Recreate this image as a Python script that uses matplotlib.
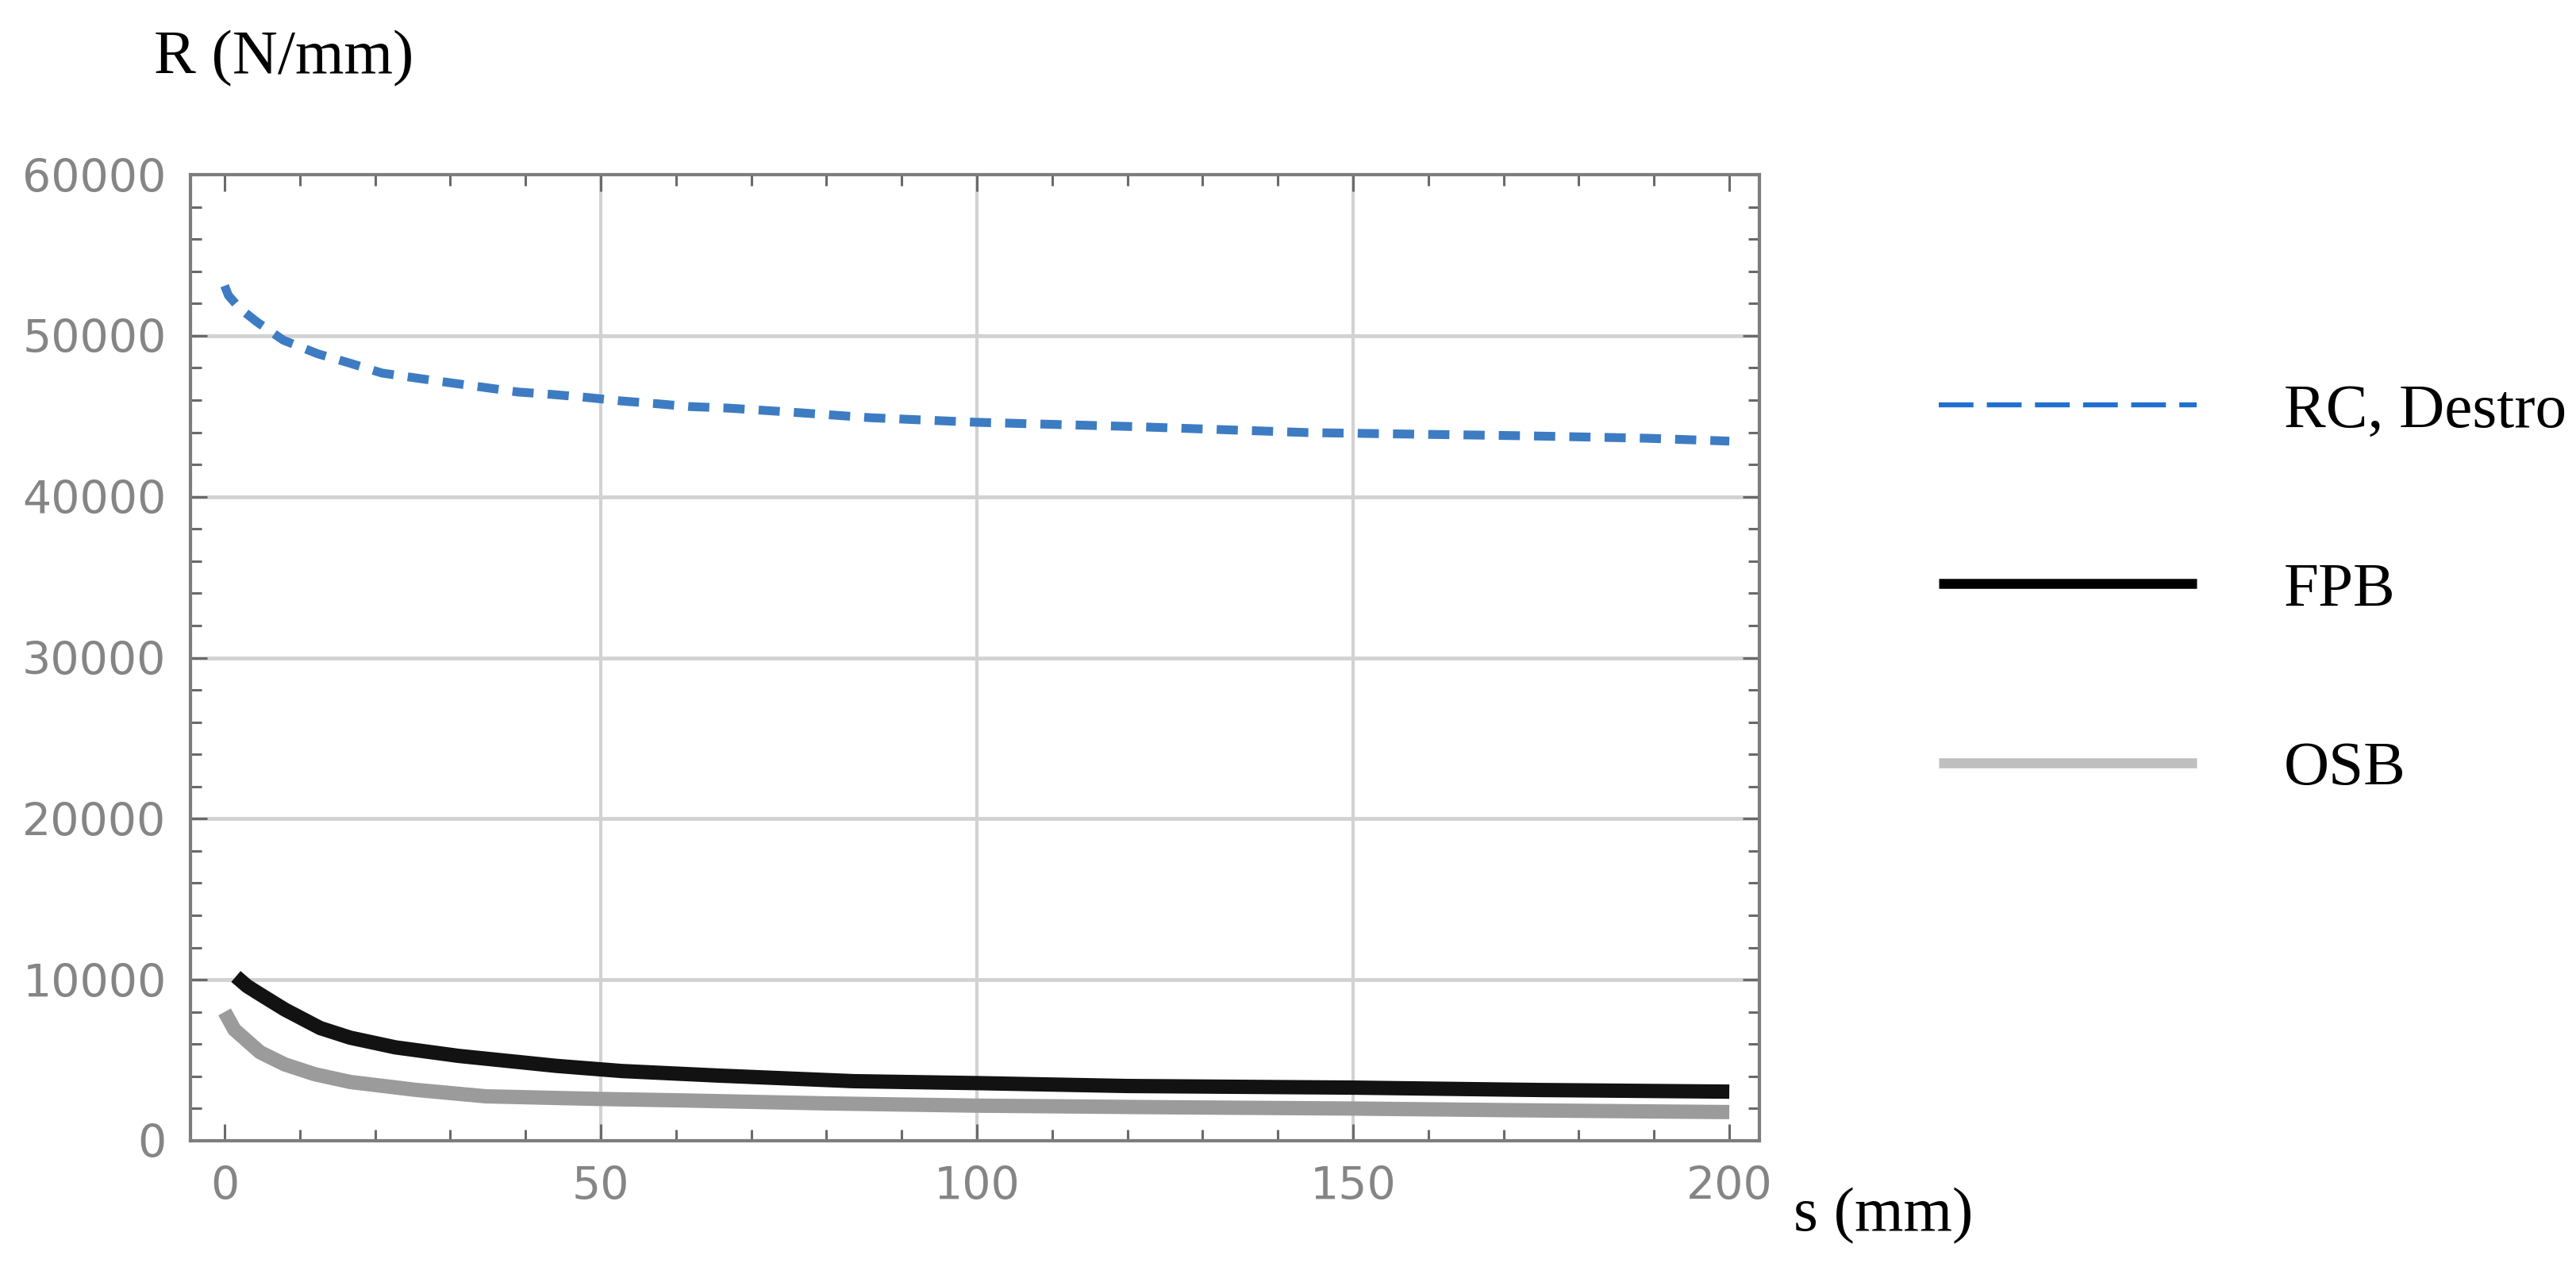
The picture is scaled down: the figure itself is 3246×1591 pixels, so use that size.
import matplotlib
matplotlib.use('Agg')
import matplotlib.pyplot as plt
from matplotlib.lines import Line2D

# ---------------- data ----------------
s_rc = [0, 0.5, 2, 4.3, 7.8, 12.4, 16.6, 20.9, 25.6, 29.9, 34.3, 39, 43.5, 48,
        52.6, 57, 61.7, 67, 75, 86, 100, 121, 144, 173, 189, 200]
r_rc = [53100, 52500, 51700, 50850, 49720, 48870, 48300, 47680, 47360, 47080,
        46800, 46500, 46350, 46170, 45950, 45790, 45600, 45500, 45260, 44900,
        44620, 44350, 43980, 43780, 43630, 43450]

s_fpb = [1.5, 3, 4.7, 8, 12.7, 16.7, 22.7, 31.1, 44.1, 52.8, 65.5, 83.6, 100,
         120, 150, 175, 200]
r_fpb = [10200, 9600, 9100, 8150, 7000, 6400, 5800, 5270, 4650, 4330, 4050,
         3700, 3580, 3400, 3300, 3150, 3050]

s_osb = [0, 1.3, 4.7, 8, 12, 16.7, 25.4, 34.7, 49.4, 61.4, 80, 100, 125, 150,
         175, 200]
r_osb = [8000, 6900, 5500, 4740, 4130, 3650, 3160, 2760, 2600, 2500, 2320,
         2180, 2080, 2000, 1880, 1780]

series_labels = ['RC, Destro', 'FPB', 'OSB']

x_major = [0, 50, 100, 150, 200]
x_major_labels = ['0', '50', '100', '150', '200']
x_minor = list(range(0, 201, 10))
y_major = [0, 10000, 20000, 30000, 40000, 50000, 60000]
y_major_labels = ['0', '10000', '20000', '30000', '40000', '50000', '60000']
y_minor = list(range(0, 60001, 2000))

x_label = 's (mm)'
y_label = 'R (N/mm)'

# ---------------- figure ----------------
W, H = 3246, 1591
fig = plt.figure(figsize=(W / 100, H / 100), dpi=100)
ax = fig.add_axes([240 / W, (H - 1437) / H, (2217 - 240) / W, (1437 - 220) / H])

ax.set_xlim(-4.54, 204.0)
ax.set_ylim(0, 60000)

# grid lines at interior major ticks
grid_col = '#d2d2d2'
for v in x_major:
    if x_major[0] < v < x_major[-1]:
        ax.axvline(v, color=grid_col, lw=3.0, zorder=0)
for v in y_major:
    if y_major[0] < v < y_major[-1]:
        ax.axhline(v, color=grid_col, lw=3.5, zorder=0)

# curves
ax.plot(s_osb, r_osb, color='#9b9b9b', lw=13, solid_capstyle='butt', zorder=3)
ax.plot(s_fpb, r_fpb, color='#121212', lw=13, solid_capstyle='butt', zorder=4)
ax.plot(s_rc, r_rc, color='#3d7cc2', lw=8, dashes=(2.4, 1.6),
        dash_capstyle='butt', zorder=5)

# ticks
ax.set_xticks(x_major)
ax.set_xticklabels(x_major_labels)
ax.set_xticks(x_minor, minor=True)
ax.set_yticks(y_major)
ax.set_yticklabels(y_major_labels)
ax.set_yticks(y_minor, minor=True)

tick_col = '#6a6a6a'
lab_col = '#858585'
ax.tick_params(which='both', direction='in', top=True, right=True,
               color=tick_col, width=2.2)
ax.tick_params(which='major', length=15)
ax.tick_params(which='minor', length=10)
ax.tick_params(axis='x', which='major', pad=22, labelsize=41, labelcolor=lab_col)
ax.tick_params(axis='y', which='major', pad=22, labelsize=41, labelcolor=lab_col)
for lab in ax.get_xticklabels() + ax.get_yticklabels():
    lab.set_family('DejaVu Sans')

for sp in ax.spines.values():
    sp.set_color('#7d7d7d')
    sp.set_linewidth(3.0)

# axis labels (serif, outside the frame)
serif = 'Liberation Serif'
fig.text(194 / W, (H - 92) / H, y_label, family=serif, fontsize=57,
         ha='left', va='baseline', color='black')
fig.text(2260 / W, (H - 1550) / H, x_label, family=serif, fontsize=57,
         ha='left', va='baseline', color='black')

# legend
handles = [
    Line2D([], [], color='#1f70cf', lw=4.5, dashes=(7.0, 2.7), dash_capstyle='butt'),
    Line2D([], [], color='black', lw=9, solid_capstyle='butt'),
    Line2D([], [], color='#bfbfbf', lw=9, solid_capstyle='butt'),
]
leg = fig.legend(handles, series_labels, loc='center left',
                 bbox_to_anchor=(2443 / W, (H - 744) / H), frameon=False,
                 prop={'family': serif, 'size': 57}, handlelength=4.1,
                 handletextpad=1.39, labelspacing=1.93, borderpad=0,
                 borderaxespad=0)

fig.savefig('out.png', dpi=100, facecolor='white')
